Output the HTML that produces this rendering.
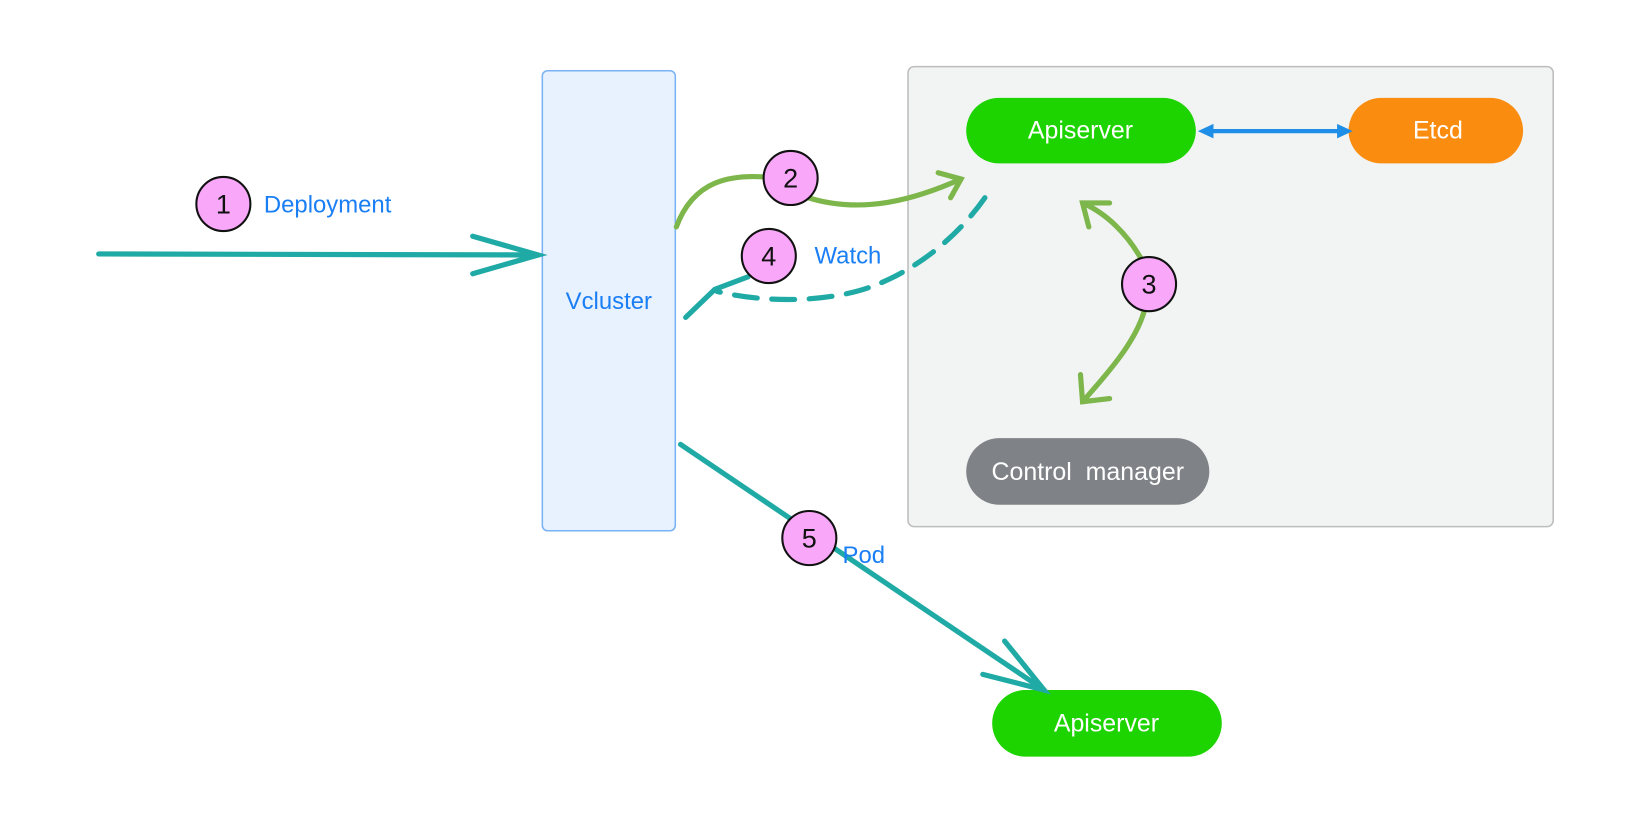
<!DOCTYPE html>
<html><head><style>html,body{margin:0;padding:0;background:#fff;}svg{display:block}</style></head>
<body>
<svg width="1628" height="818" viewBox="0 0 1567 786" preserveAspectRatio="none" xmlns="http://www.w3.org/2000/svg" font-family="Liberation Sans, sans-serif">
<rect x="0" y="0" width="1567" height="786" fill="#fff"/>
<rect x="874" y="64" width="621" height="442" rx="6" fill="#f2f3f3" stroke="#bdbdbd" stroke-width="1.5"/>
<rect x="522" y="68" width="128" height="442" rx="5" fill="#e8f2fe" stroke="#7ab3f5" stroke-width="1.5"/>
<text x="586" y="297" font-size="23" fill="#1a7ef5" text-anchor="middle">Vcluster</text>

<rect x="930" y="94" width="221" height="63" rx="31.5" fill="#1dd300"/>
<text x="1040" y="133" font-size="24" fill="#fff" text-anchor="middle">Apiserver</text>
<rect x="1298" y="94" width="168" height="63" rx="31.5" fill="#fa8c0f"/>
<text x="1384" y="133" font-size="24" fill="#fff" text-anchor="middle">Etcd</text>
<rect x="930" y="421" width="234" height="64" rx="32" fill="#7f8287"/>
<text x="1047" y="461" font-size="24" fill="#fff" text-anchor="middle">Control&#160;&#160;manager</text>
<rect x="955" y="663" width="221" height="64" rx="32" fill="#1dd300"/>
<text x="1065" y="703" font-size="24" fill="#fff" text-anchor="middle">Apiserver</text>

<line x1="1162" y1="126" x2="1292" y2="126" stroke="#1f8ee6" stroke-width="4"/>
<polygon points="1153,126 1168,119 1168,133" fill="#1f8ee6"/>
<polygon points="1302,126 1287,119 1287,133" fill="#1f8ee6"/>

<g stroke="#20aaa5" stroke-width="5" fill="none" stroke-linecap="round">
<line x1="95" y1="244" x2="518" y2="245"/>
<polyline points="455,227 518,245 455,263"/>
<line x1="655" y1="427" x2="1005" y2="663"/>
<polyline points="967,616 1005,663 946,648"/>
<path d="M948,190 C920,230 880,260 840,275 C800,290 740,292 690,280" stroke-dasharray="22,14"/>
<polyline points="720,266 688,278 660,305"/>
</g>

<g stroke="#7db64a" stroke-width="5" fill="none" stroke-linecap="round">
<path d="M651,218 C668,172 705,168 736,170"/>
<path d="M778,190 C830,206 880,192 925,172"/>
<polyline points="903,166 925,172 915,190"/>
<path d="M1098,248 C1085,225 1065,205 1042,195"/>
<polyline points="1068,195 1042,195 1048,218"/>
<path d="M1101,300 C1092,330 1065,360 1042,386"/>
<polyline points="1040,360 1042,386 1068,383"/>
</g>

<g stroke="#111" stroke-width="2" fill="#f9a8f9">
<circle cx="215" cy="196" r="26"/>
<circle cx="761" cy="171" r="26"/>
<circle cx="740" cy="246" r="26"/>
<circle cx="1106" cy="273" r="26"/>
<circle cx="779" cy="517" r="26"/>
</g>
<g font-size="26" fill="#111" text-anchor="middle">
<text x="215" y="205">1</text>
<text x="761" y="180">2</text>
<text x="740" y="255">4</text>
<text x="1106" y="282">3</text>
<text x="779" y="526">5</text>
</g>
<g font-size="23" fill="#1a7ef5">
<text x="254" y="204">Deployment</text>
<text x="784" y="253">Watch</text>
<text x="811" y="541">Pod</text>
</g>
</svg>
</body></html>
